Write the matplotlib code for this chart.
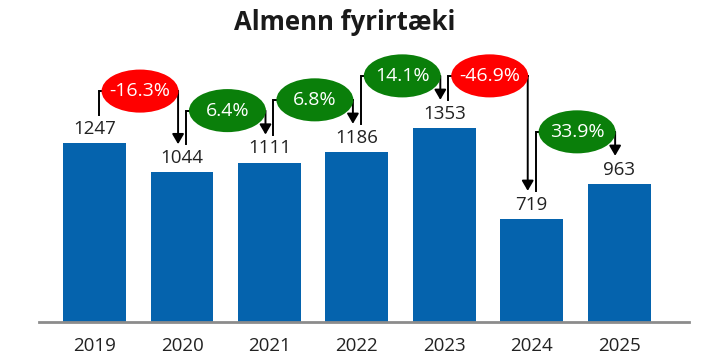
import numpy as np
import matplotlib.pyplot as plt
from matplotlib.patches import Ellipse

plt.rcParams['font.family'] = ['Open Sans', 'DejaVu Sans']

years = ['2019', '2020', '2021', '2022', '2023', '2024', '2025']
values = [1247, 1044, 1111, 1186, 1353, 719, 963]
changes = ['-16.3%', '6.4%', '6.8%', '14.1%', '-46.9%', '33.9%']

bar_color = '#0563ad'
up_color = '#0a7f0a'
down_color = '#ff0000'

fig = plt.figure(figsize=(7.03, 3.63), dpi=100)
ax = fig.add_axes([39 / 703, 41 / 363, 650 / 703, 282 / 363])

x = np.arange(len(years))
ax.bar(x, values, width=0.72, color=bar_color, zorder=2)

ax.set_xlim(-0.636, 6.80)
ax.set_ylim(0, 1965)

# labels above bars
for xi, v in zip(x, values):
    ax.text(xi, v + 98, str(v), ha='center', va='center', fontsize=13.5,
            color='#222222')

# connectors between bars
end_off = 195     # arrow ends above bar
level_off = 362   # horizontal line above the higher bar
dx = 0.045
for i, ch in enumerate(changes):
    v0, v1 = values[i], values[i + 1]
    lvl = max(v0, v1) + level_off
    x0 = x[i] + dx
    x1 = x[i + 1] - dx
    ax.plot([x0, x0, x1], [v0 + end_off, lvl, lvl], color='black', lw=1.4,
            zorder=3, solid_joinstyle='miter')
    ax.annotate('', xy=(x1, v1 + end_off), xytext=(x1, lvl),
                arrowprops=dict(arrowstyle='-|>,head_width=0.35,head_length=0.6',
                                color='black', lw=1.4, shrinkA=0, shrinkB=0),
                zorder=3)
    col = down_color if ch.startswith('-') else up_color
    cx = (x[i] + x[i + 1]) / 2 + 0.02
    ax.add_patch(Ellipse((cx, lvl), 0.88, 300, facecolor=col, edgecolor='none',
                         zorder=4))
    ax.text(cx, lvl, ch, ha='center', va='center', fontsize=14,
            color='white', zorder=5)

ax.set_xticks(x)
ax.set_xticklabels(years, fontsize=13.5, color='#222222')
ax.tick_params(axis='x', length=0, pad=11)
ax.set_yticks([])
for s in ['left', 'right', 'top']:
    ax.spines[s].set_visible(False)
ax.spines['bottom'].set_color('#8c8c8c')
ax.spines['bottom'].set_linewidth(2)

fig.text(345 / 703, 1 - 22 / 363, 'Almenn fyrirtæki', ha='center', va='center',
         fontsize=18.5, fontweight='bold', color='#1a1a1a')

fig.savefig('out.png', dpi=100)
